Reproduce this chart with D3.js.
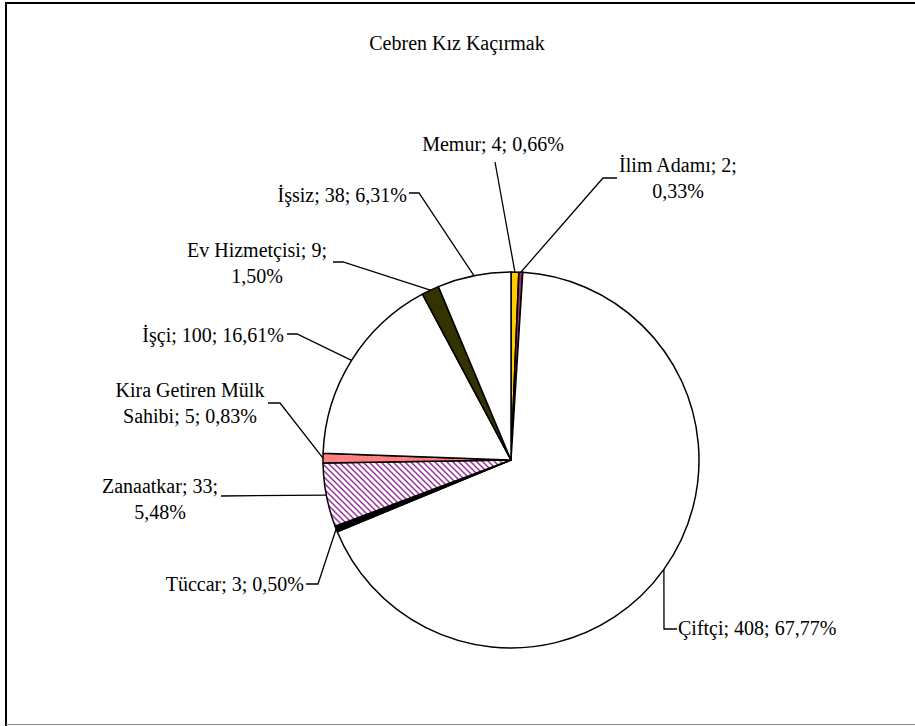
<!DOCTYPE html>
<html>
<head>
<meta charset="utf-8">
<script src="https://cdn.jsdelivr.net/npm/d3@7"></script>
<style>
body { margin: 0; background: #fff; }
svg text { font-family: "Liberation Serif", "Times New Roman", Times, serif; fill: #000; }
</style>
</head>
<body>
<svg class="chart" font-family="Liberation Serif"></svg>
<script>
var width = 915;
var height = 726;

var title = "Cebren Kız Kaçırmak";
var categories = ["Memur", "İlim Adamı", "Çiftçi", "Tüccar", "Zanaatkar", "Kira Getiren Mülk Sahibi", "İşçi", "Ev Hizmetçisi", "İşsiz"];
var values = [4, 2, 408, 3, 33, 5, 100, 9, 38];
var fills = ["#ffcc00", "#993366", "#ffffff", "#000000", "url(#hatch)", "#ff8080", "#ffffff", "#333300", "#ffffff"];
var wraps = [0, 3, 0, 0, 2, 3, 0, 3, 0]; // words on the first label line, 0 = single line

// where each label sits and the elbow of its leader line
var labelPos = [
    {x: 493, y: 144, anchor: "middle", elbow: [[495, 162]]},
    {x: 678, y: 178, anchor: "middle", elbow: [[617, 178], [603, 178]]},
    {x: 678, y: 628, anchor: "start", elbow: [[677, 629], [664, 629]]},
    {x: 304, y: 584, anchor: "end", elbow: [[306, 584], [318, 584]]},
    {x: 160, y: 499, anchor: "middle", elbow: [[221, 496]]},
    {x: 190, y: 403, anchor: "middle", elbow: [[268, 403], [280, 403]]},
    {x: 284, y: 335, anchor: "end", elbow: [[287, 334], [297, 334]]},
    {x: 257, y: 263, anchor: "middle", elbow: [[333, 262], [343, 262]]},
    {x: 407, y: 195, anchor: "end", elbow: [[409, 193], [419, 193]]}
];

var cx = 511, cy = 460, radius = 188;
var lineH = 26;
var fontSize = 20;

var total = d3.sum(values);
var fmtPct = function(v) { return d3.format(".2f")(v / total * 100).replace(".", ",") + "%"; };

var chart = d3.select(".chart")
    .attr("width", width)
    .attr("height", height);

var defs = chart.append("defs");
var hatch = defs.append("pattern")
    .attr("id", "hatch")
    .attr("patternUnits", "userSpaceOnUse")
    .attr("width", 6)
    .attr("height", 6);
hatch.append("rect").attr("width", 6).attr("height", 6).attr("fill", "#fff");
hatch.append("path")
    .attr("d", "M-1,-1L7,7M-1,5L1,7M5,-1L7,1")
    .attr("stroke", "#993399")
    .attr("stroke-width", 1.5);

// chart area frame
chart.append("path")
    .attr("d", "M6,726V3H915")
    .attr("fill", "none")
    .attr("stroke", "#000")
    .attr("stroke-width", 2);
chart.append("line")
    .attr("x1", 6).attr("x2", 915)
    .attr("y1", 724.5).attr("y2", 724.5)
    .attr("stroke", "#888")
    .attr("stroke-width", 1);

chart.append("text")
    .attr("x", 457)
    .attr("y", 43)
    .attr("dy", "0.35em")
    .attr("text-anchor", "middle")
    .attr("font-family", "Liberation Serif")
    .style("font-size", fontSize + "px")
    .text(title);

var pie = d3.pie().sort(null).value(function(d) { return d; });
var arcs = pie(values);

var arc = d3.arc().innerRadius(0).outerRadius(radius);
var edge = d3.arc().innerRadius(radius).outerRadius(radius);

var g = chart.append("g")
    .attr("transform", "translate(" + cx + "," + cy + ")");

g.selectAll("path.slice")
    .data(arcs)
    .enter()
    .append("path")
    .attr("class", "slice")
    .attr("d", arc)
    .attr("fill", function(d, i) { return fills[i]; })
    .attr("stroke", "#000")
    .attr("stroke-width", 1.5)
    .attr("stroke-linejoin", "round");

// leader lines
var line = d3.line();
chart.selectAll("path.leader")
    .data(arcs)
    .enter()
    .append("path")
    .attr("class", "leader")
    .attr("d", function(d, i) {
        var c = edge.centroid(d);
        var pts = labelPos[i].elbow.concat([[cx + c[0], cy + c[1]]]);
        return line(pts);
    })
    .attr("fill", "none")
    .attr("stroke", "#000")
    .attr("stroke-width", 1.3);

// data labels
chart.selectAll("text.label")
    .data(arcs)
    .enter()
    .append("text")
    .attr("class", "label")
    .attr("font-family", "Liberation Serif")
    .attr("text-anchor", function(d, i) { return labelPos[i].anchor; })
    .style("font-size", fontSize + "px")
    .each(function(d, i) {
        var words = (categories[i] + "; " + values[i] + "; " + fmtPct(values[i])).split(" ");
        var lines = wraps[i] ? [words.slice(0, wraps[i]).join(" "), words.slice(wraps[i]).join(" ")] : [words.join(" ")];
        var y0 = labelPos[i].y - (lines.length - 1) * lineH / 2;
        var t = d3.select(this);
        lines.forEach(function(s, k) {
            t.append("tspan")
                .attr("x", labelPos[i].x)
                .attr("y", y0 + k * lineH)
                .attr("dy", "0.35em")
                .text(s);
        });
    });
</script>
</body>
</html>
